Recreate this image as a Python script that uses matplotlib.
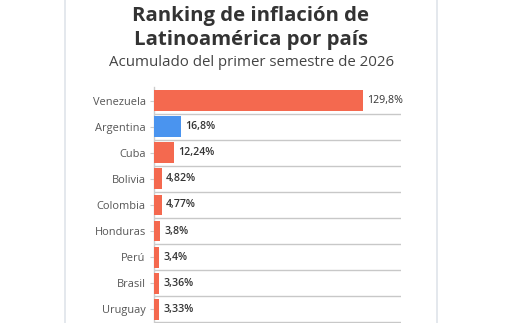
import matplotlib
matplotlib.use("Agg")
import matplotlib.pyplot as plt
from matplotlib.patches import FancyBboxPatch

countries = ["Venezuela", "Argentina", "Cuba", "Bolivia", "Colombia",
             "Honduras", "Perú", "Brasil", "Uruguay"]
values = [129.8, 16.8, 12.24, 4.82, 4.77, 3.8, 3.4, 3.36, 3.33]
labels = ["129,8%", "16,8%", "12,24%", "4,82%", "4,77%", "3,8%", "3,4%", "3,36%", "3,33%"]
highlight = "Argentina"

W, H = 529, 323
fig = plt.figure(figsize=(W / 100, H / 100), dpi=100)
fig.patch.set_facecolor("white")

def fx(px):
    return px / W

def fy(py):
    return 1 - py / H

# card
card = FancyBboxPatch((fx(65), fy(345)), fx(437) - fx(65), fy(-20) - fy(345),
                      boxstyle="round,pad=0,rounding_size=0.03",
                      transform=fig.transFigure, facecolor="white",
                      edgecolor="#d9dee6", linewidth=1.0, zorder=-10)
fig.patches.append(card)

fam = ["Open Sans", "DejaVu Sans"]
fig.text(fx(251), fy(15.5), "Ranking de inflación de", ha="center", va="center",
         fontsize=14.7, fontweight="bold", color="#333333", family=fam)
fig.text(fx(251), fy(39.5), "Latinoamérica por país", ha="center", va="center",
         fontsize=14.7, fontweight="bold", color="#333333", family=fam)
fig.text(fx(252), fy(63), "Acumulado del primer semestre de 2026", ha="center",
         va="center", fontsize=10.8, color="#444444", family=fam)

top_px, bot_px = 87.5, 340
row_h = 26.1
ax = fig.add_axes([fx(154), fy(bot_px), fx(401) - fx(154), (bot_px - top_px) / H])
ax.set_zorder(5)
ax.set_facecolor("none")
n_rows = (bot_px - top_px) / row_h
ax.set_ylim(-0.5 + n_rows, -0.5)
ax.set_xlim(0, 153.4)

ypos = list(range(len(countries)))
colors = ["#4a94ef" if c == highlight else "#f4694f" for c in countries]
ax.barh(ypos, values, height=0.8, color=colors, zorder=3)

for y, v, lab in zip(ypos, values, labels):
    ax.annotate(lab, (v, y), xytext=(3, 0), textcoords="offset points",
                ha="left", va="center", fontsize=7.7,
                fontweight="normal" if v > 100 else "semibold",
                color="#333333", family=fam)
    ax.axhline(y + 0.5, color="#c8c8c8", linewidth=1.0, zorder=1)

ax.set_yticks(ypos)
ax.set_yticklabels(countries, fontsize=7.9, color="#555555", family=fam)
ax.tick_params(axis="y", length=3, color="#cccccc", pad=3)
ax.set_xticks([])
for s in ["top", "right", "bottom"]:
    ax.spines[s].set_visible(False)
ax.spines["left"].set_color("#cccccc")
ax.spines["left"].set_linewidth(1.0)

fig.savefig("out.png", dpi=100)
